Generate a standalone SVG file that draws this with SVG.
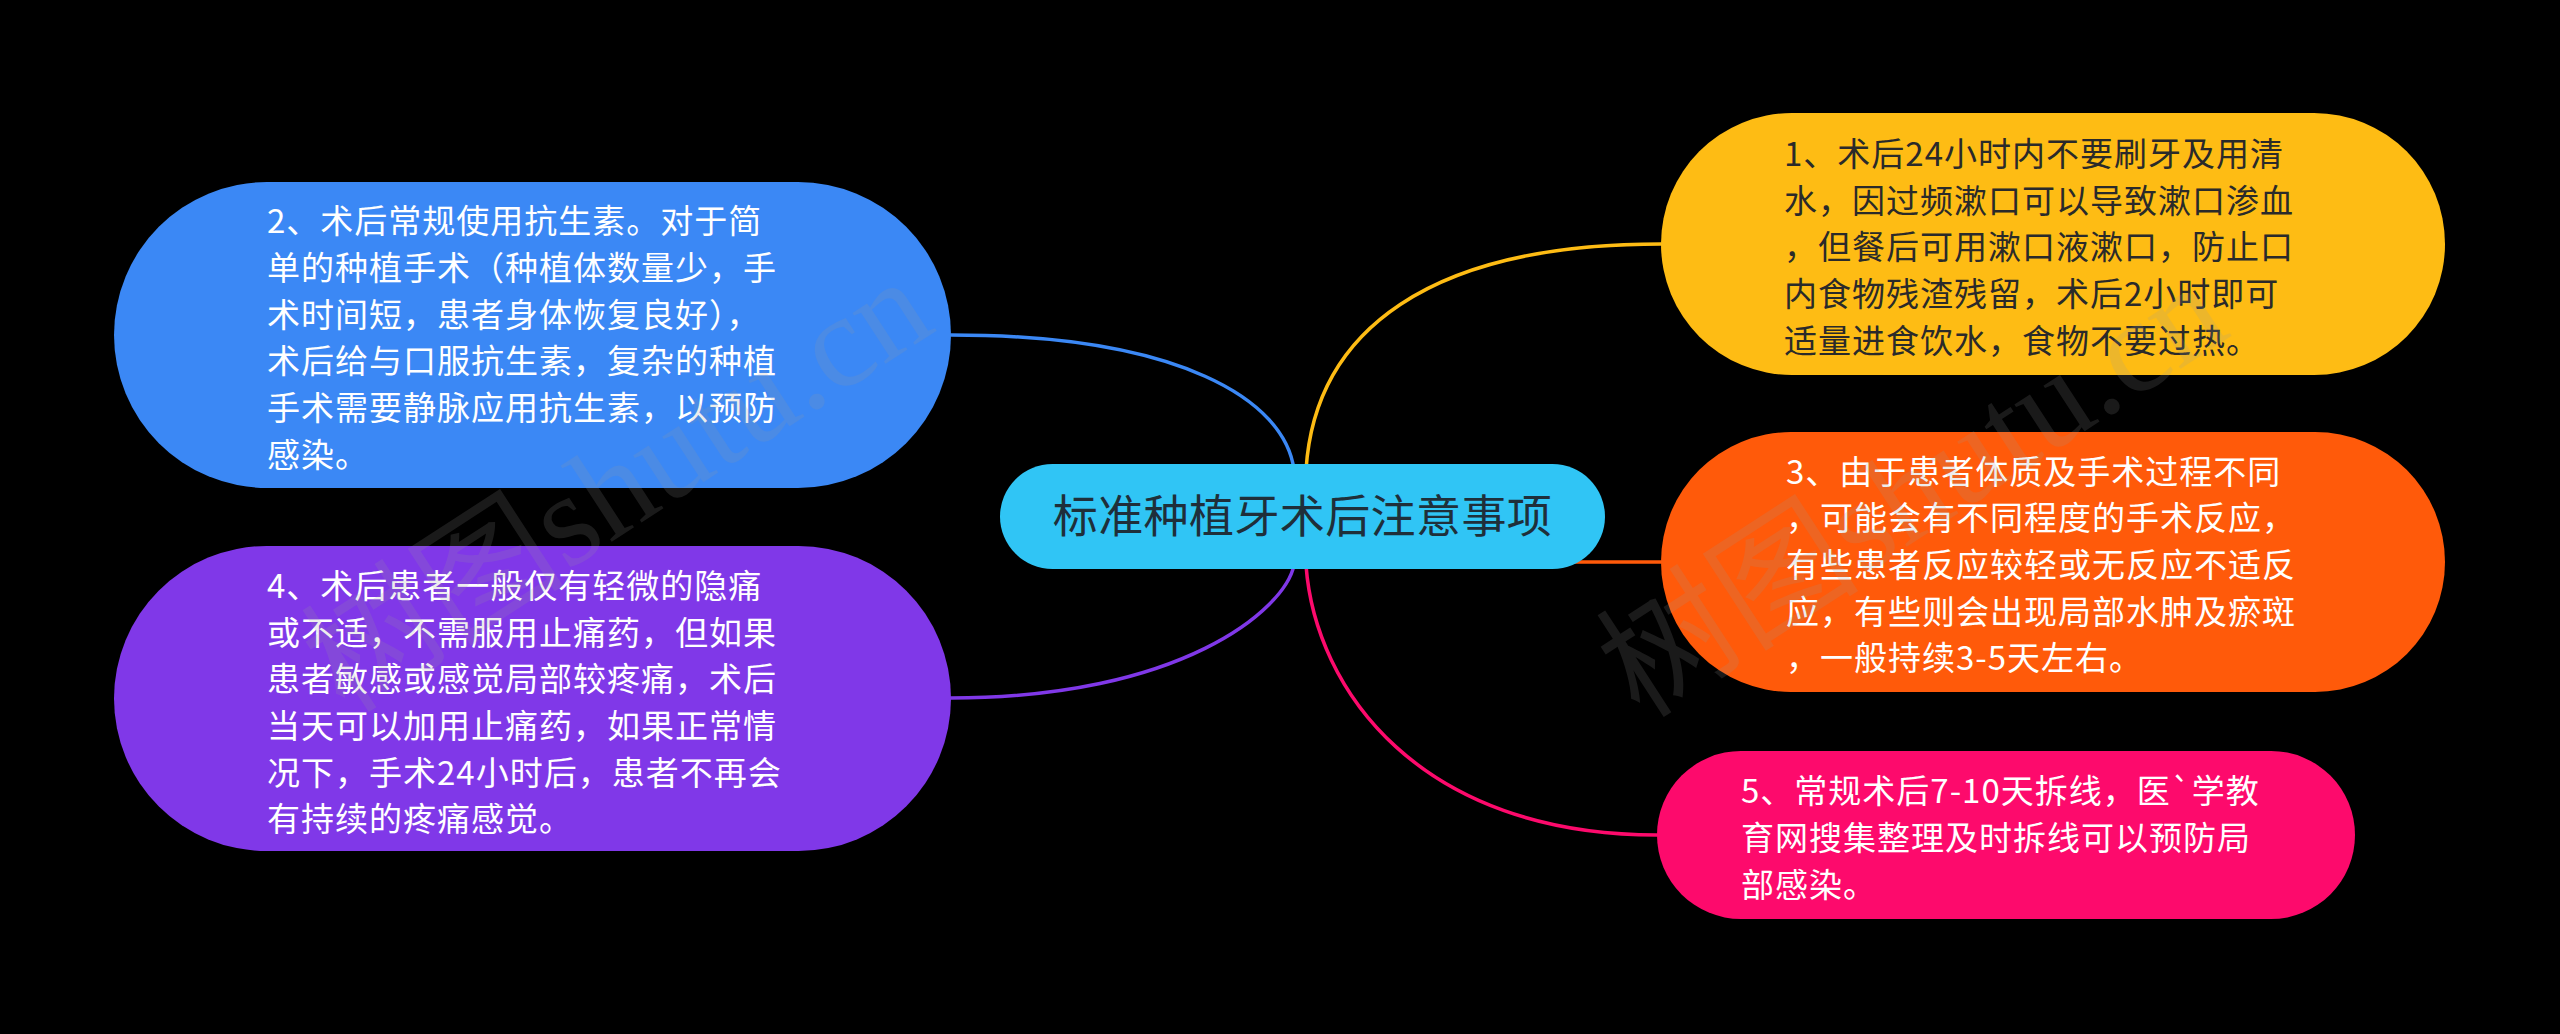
<svg xmlns="http://www.w3.org/2000/svg" width="2560" height="1034" viewBox="0 0 2560 1034">
<style>
.t{font-family:"Noto Sans CJK SC","Noto Sans",sans-serif;font-size:33px;letter-spacing:1px}
.w{fill:#ffffff}
.d{fill:#2a2a2a}
.c{fill:none;stroke-width:3.5;stroke-linecap:round}
.wm{font-family:"Liberation Serif","Noto Sans CJK SC",serif;font-size:132px;fill:#9a9a9a;opacity:0.17}
</style>
<rect width="2560" height="1034" fill="#000000"/>
<g id="connectors">
<path class="c" stroke="#3B88F5" d="M951 335 C1180 335 1285 400 1294 470"/>
<path class="c" stroke="#FEBC14" d="M1306 470 C1315 330 1430 244 1661 244"/>
<path class="c" stroke="#FF5A0A" d="M1560 562 L1661 562"/>
<path class="c" stroke="#8038E8" d="M1294 565 C1285 610 1180 698 951 698"/>
<path class="c" stroke="#FD0A6C" d="M1306 565 C1315 690 1420 835 1657 835"/>
</g>
<g id="node-center">
<rect x="1000" y="464" width="605" height="105" rx="52.5" fill="#30C5F5"/>
<text x="1302.5" y="533" text-anchor="middle" font-family="Noto Sans CJK SC, sans-serif" font-size="45" letter-spacing="0.4" fill="#1f2f3a">标准种植牙术后注意事项</text>
</g>
<g id="node-1">
<rect x="1661" y="113" width="784" height="262" rx="131" fill="#FEBC14"/>
<text class="t d">
<tspan x="1784" y="166">1、术后24小时内不要刷牙及用清</tspan>
<tspan x="1784" y="212.7">水，因过频漱口可以导致漱口渗血</tspan>
<tspan x="1784" y="259.3">，但餐后可用漱口液漱口，防止口</tspan>
<tspan x="1784" y="306">内食物残渣残留，术后2小时即可</tspan>
<tspan x="1784" y="352.7">适量进食饮水，食物不要过热。</tspan>
</text>
</g>
<g id="node-2">
<rect x="114" y="182" width="837" height="306" rx="153" fill="#3B88F5"/>
<text class="t w">
<tspan x="267" y="233.3">2、术后常规使用抗生素。对于简</tspan>
<tspan x="267" y="280">单的种植手术（种植体数量少，手</tspan>
<tspan x="267" y="326.7">术时间短，患者身体恢复良好），</tspan>
<tspan x="267" y="373.3">术后给与口服抗生素，复杂的种植</tspan>
<tspan x="267" y="420">手术需要静脉应用抗生素，以预防</tspan>
<tspan x="267" y="466.7">感染。</tspan>
</text>
</g>
<g id="node-3">
<rect x="1661" y="432" width="784" height="260" rx="130" fill="#FF5A0A"/>
<text class="t w">
<tspan x="1786" y="483.7">3、由于患者体质及手术过程不同</tspan>
<tspan x="1786" y="530.3">，可能会有不同程度的手术反应，</tspan>
<tspan x="1786" y="577">有些患者反应较轻或无反应不适反</tspan>
<tspan x="1786" y="623.7">应，有些则会出现局部水肿及瘀斑</tspan>
<tspan x="1786" y="670.3">，一般持续3-5天左右。</tspan>
</text>
</g>
<g id="node-4">
<rect x="114" y="546" width="837" height="305" rx="152.5" fill="#8038E8"/>
<text class="t w">
<tspan x="267" y="598">4、术后患者一般仅有轻微的隐痛</tspan>
<tspan x="267" y="644.7">或不适，不需服用止痛药，但如果</tspan>
<tspan x="267" y="691.3">患者敏感或感觉局部较疼痛，术后</tspan>
<tspan x="267" y="738">当天可以加用止痛药，如果正常情</tspan>
<tspan x="267" y="784.7">况下，手术24小时后，患者不再会</tspan>
<tspan x="267" y="831.3">有持续的疼痛感觉。</tspan>
</text>
</g>
<g id="node-5">
<rect x="1657" y="751" width="698" height="168" rx="84" fill="#FD0A6C"/>
<text class="t w">
<tspan x="1741" y="803.3">5、常规术后7-10天拆线，医`学教</tspan>
<tspan x="1741" y="850">育网搜集整理及时拆线可以预防局</tspan>
<tspan x="1741" y="896.7">部感染。</tspan>
</text>
</g>
<g id="watermarks">
<text class="wm" transform="translate(345 715) rotate(-33)">树图shutu.cn</text>
<text class="wm" transform="translate(1640 720) rotate(-33)">树图shutu.cn</text>
</g>
</svg>
